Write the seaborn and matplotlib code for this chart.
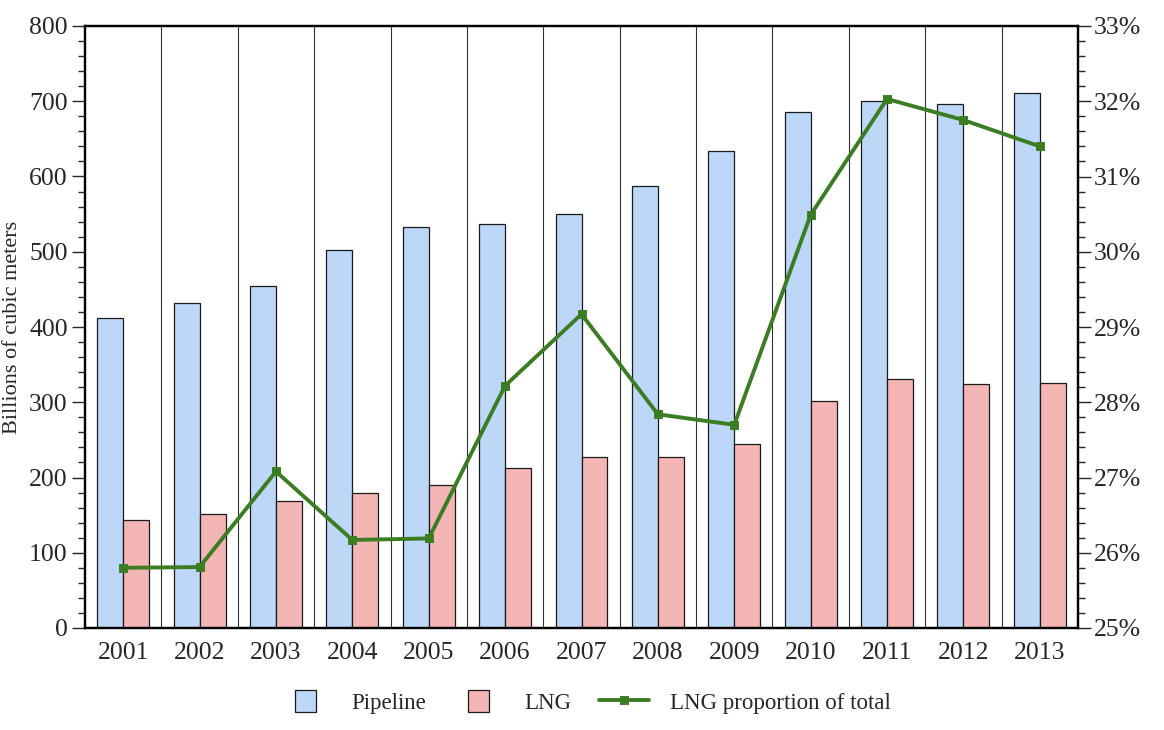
import numpy as np
import pandas as pd
import seaborn as sns
import matplotlib.pyplot as plt
import matplotlib.patches as mpatches
from matplotlib.legend_handler import HandlerPatch
from matplotlib.ticker import MultipleLocator, FuncFormatter

# Data
years = ["2001", "2002", "2003", "2004", "2005", "2006", "2007",
         "2008", "2009", "2010", "2011", "2012", "2013"]
pipeline = [412, 432, 455, 502, 533, 537, 550, 587, 634, 686, 700, 697, 711]
lng = [144, 151, 169, 179, 190, 212, 227, 227, 244, 302, 331, 324, 326]
lng_share = [25.80, 25.81, 27.08, 26.17, 26.19, 28.22, 29.17,
             27.84, 27.70, 30.49, 32.03, 31.75, 31.40]

BLUE = "#BDD7F8"
PINK = "#F4B5B5"
GREEN = "#3A7D22"

sns.set_style("ticks")
plt.rcParams["font.family"] = ["Liberation Serif", "DejaVu Serif"]

df = pd.DataFrame({
    "year": years * 2,
    "value": pipeline + lng,
    "kind": ["Pipeline"] * len(years) + ["LNG"] * len(years),
})

fig = plt.figure(figsize=(11.64, 7.30), dpi=100)
ax = fig.add_axes([85 / 1164, 102 / 730, 993 / 1164, 602 / 730])

sns.barplot(data=df, x="year", y="value", hue="kind",
            palette={"Pipeline": BLUE, "LNG": PINK}, width=0.68,
            edgecolor="#1a1a1a", linewidth=0.9, saturation=1, ax=ax)
bar_handles, bar_labels = ax.get_legend_handles_labels()
ax.get_legend().remove()

# thin separators between the years
for i in range(len(years) - 1):
    ax.axvline(i + 0.5, color="#333333", lw=0.8, zorder=0.5)

ax.set_xlim(-0.5, len(years) - 0.5)
ax.set_ylim(0, 800)
ax.yaxis.set_major_locator(MultipleLocator(100))
ax.yaxis.set_minor_locator(MultipleLocator(20))
ax.set_xlabel("")
ax.set_ylabel("Billions of cubic meters", fontsize=16, labelpad=5)
ax.tick_params(axis="x", length=0, pad=10, labelsize=18.5)
ax.tick_params(axis="y", which="major", length=9.5, width=1, pad=3, labelsize=18.5)
ax.tick_params(axis="y", which="minor", length=5, width=1)

ax2 = ax.twinx()
sns.pointplot(x=years, y=lng_share, ax=ax2, color=GREEN, markers="s",
              markersize=5, linewidth=2.8, errorbar=None)
ax2.set_ylim(25, 33)
ax2.set_xlim(-0.5, len(years) - 0.5)
ax2.yaxis.set_major_locator(MultipleLocator(1))
ax2.yaxis.set_minor_locator(MultipleLocator(0.2))
ax2.yaxis.set_major_formatter(FuncFormatter(lambda v, p: f"{v:.0f}%"))
ax2.tick_params(axis="y", which="major", length=9.5, width=1, pad=2, labelsize=18.5)
ax2.tick_params(axis="y", which="minor", length=5, width=1)
ax2.set_ylabel("")

for a in (ax, ax2):
    for s in a.spines.values():
        s.set_visible(True)
        s.set_linewidth(1.6)
        s.set_color("black")

line_handle = ax2.lines[0]


def square_patch(legend, orig_handle, xdescent, ydescent, width, height, fontsize):
    w = height * 0.95
    return mpatches.Rectangle((-xdescent + (width - w) / 2, -ydescent), w, height)


handles = bar_handles + [line_handle]
labels = ["Pipeline", "LNG", "LNG proportion of total"]
fig.legend(handles, labels, loc="center", bbox_to_anchor=(0.503, 0.038),
           ncol=3, frameon=False, fontsize=16.5, handlelength=2.2,
           handleheight=1.1, handletextpad=0.9, columnspacing=1.2,
           handler_map={mpatches.Rectangle: HandlerPatch(patch_func=square_patch)})

fig.savefig("out.png", dpi=100)
